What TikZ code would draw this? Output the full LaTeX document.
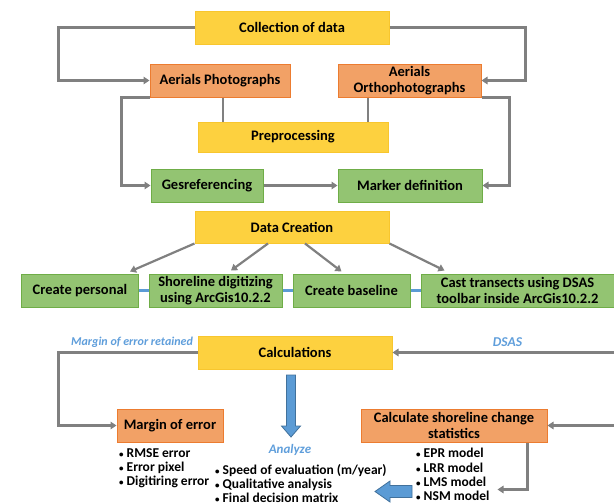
\documentclass[tikz,border=0pt]{standalone}
\usepackage{fontspec}
\setmainfont{Carlito}
\usetikzlibrary{arrows.meta}

\definecolor{yelfill}{HTML}{FDD13F}
\definecolor{yelline}{HTML}{F8C62E}
\definecolor{orafill}{HTML}{F2A166}
\definecolor{oraline}{HTML}{EC7C30}
\definecolor{grnfill}{HTML}{93C472}
\definecolor{grnline}{HTML}{6FAD47}
\definecolor{conngray}{HTML}{808080}
\definecolor{connblue}{HTML}{5B9BD5}
\definecolor{labblue}{HTML}{5F9EDB}
\definecolor{arrline}{HTML}{41719C}

\newcommand{\itm}{{\fontsize{9}{9}\selectfont\textbullet}\ }

\begin{document}
\begin{tikzpicture}[x=1pt,y=-1pt,
	box/.style={draw,line width=1pt,inner sep=0pt,align=center,
		font=\bfseries\fontsize{14.5}{16}\selectfont},
	ybox/.style={box,fill=yelfill,draw=yelline},
	obox/.style={box,fill=orafill,draw=oraline},
	gbox/.style={box,fill=grnfill,draw=grnline},
	arr/.style={draw=conngray,line width=2.2pt,-{Triangle[length=6pt,width=7.5pt]}},
	lin/.style={draw=conngray,line width=2.2pt},
	blin/.style={draw=connblue,line width=2.2pt},
	lab/.style={text=labblue,font=\bfseries\itshape\fontsize{12}{14}\selectfont},
	items/.style={align=left,anchor=west,inner sep=0pt,
		font=\bfseries\fontsize{13.5}{14.2}\selectfont},
	bigarr/.style={fill=connblue,draw=arrline,line width=0.8pt}]

	\useasboundingbox (0,0) rectangle (614,504);

	% first part
	\node[ybox,minimum width=194,minimum height=33] (coll) at (292,27.5) {Collection of data};
	\node[obox,minimum width=140,minimum height=33] (aph) at (220,80.5) {Aerials Photographs};
	\node[obox,minimum width=143,minimum height=33] (aor) at (409.5,80.5) {Aerials\\Orthophotographs};
	\node[ybox,minimum width=190,minimum height=30] (pre) at (293,137) {Preprocessing};
	\node[gbox,minimum width=112,minimum height=33] (ges) at (207,185.5) {Gesreferencing};
	\node[gbox,minimum width=144,minimum height=33] (mark) at (410,185.5) {Marker definition};

	\draw[arr] (coll.west) -- ++(-136,0) |- (aph.west);
	\draw[arr] (coll.east) -- ++(136,0) |- (aor.east);
	\draw[lin] ([xshift=3pt]aph.south) -- ([xshift=3pt]aph.south |- pre.north);
	\draw[lin] ([xshift=-41.5pt]aor.south) -- ([xshift=-41.5pt]aor.south |- pre.north);
	\draw[arr] (aph.south west) -- ++(-28,0) |- (ges.west);
	\draw[arr] (aor.south east) -- ++(28,0) |- (mark.east);
	\draw[arr] (ges.east) -- (mark.west);

	% data creation
	\node[ybox,minimum width=194,minimum height=32] (dc) at (292,227) {Data Creation};
	\node[gbox,minimum width=117,minimum height=33] (cp) at (80,290.5) {Create personal};
	\node[gbox,minimum width=133,minimum height=33] (sd) at (215.5,290.5) {Shoreline digitizing\\using ArcGis10.2.2};
	\node[gbox,minimum width=117,minimum height=33] (cb) at (351.5,290.5) {Create baseline};
	\node[gbox,minimum width=193,minimum height=33] (ct) at (517.5,290.5) {Cast transects using DSAS\\toolbar inside ArcGis10.2.2};

	\draw[arr] (dc.south west) -- ([xshift=-9pt,yshift=2pt]cp.north east);
	\draw[arr] ([xshift=-24pt]dc.south) -- ([xshift=15.5pt,yshift=3pt]sd.north);
	\draw[arr] ([xshift=13pt]dc.south) -- ([xshift=-10pt,yshift=2pt]cb.north);
	\draw[arr] (dc.south east) -- ([xshift=24pt,yshift=3pt]ct.north west);
	\draw[blin] (cp.east) -- (sd.west);
	\draw[blin] (sd.east) -- (cb.west);
	\draw[blin] (cb.east) -- (ct.west);

	% calculations
	\node[ybox,minimum width=194,minimum height=33] (calc) at (295,352.5) {Calculations};
	\node[obox,minimum width=106,minimum height=33] (moe) at (170,425.5) {Margin of error};
	\node[obox,minimum width=186,minimum height=33] (ccs) at (454,425.5) {Calculate shoreline change\\statistics};
	\coordinate (dsasin) at (614,352.5);
	\coordinate (statin) at (614,425.5);

	\draw[arr] (calc.west) -- ++(-139,0) |- (moe.west);
	\node[lab] (retained) at (132,342) {Margin of error retained};
	\draw[arr] (dsasin) -- (calc.east);
	\node[lab,font=\bfseries\itshape\fontsize{13.5}{14}\selectfont] (dsas) at (507.5,342) {DSAS};
	\draw[arr] (statin) -- (ccs.east);
	\draw[arr] ([xshift=-20pt]ccs.south east) -- ++(0,47) -- ++(-30,0);

	% results
	\node[items] (errlist) at (119,468) {\itm RMSE error\\\itm Error pixel\\\itm Digitiring error};
	\node[lab,font=\bfseries\itshape\fontsize{13}{14}\selectfont] (analyze) at (290,450) {Analyze};
	\node[items] (anlist) at (215,483.5) {\itm Speed of evaluation (m/year)\\\itm Qualitative analysis\\\itm Final decision matrix};
	\node[items] (modlist) at (416,474.5) {\itm EPR model\\\itm LRR model\\\itm LMS model\\\itm NSM model};

	\filldraw[bigarr] (286.5,375) -- (295.5,375) -- (295.5,426) -- (300.5,426) -- (291,437)
		-- (281.5,426) -- (286.5,426) -- cycle;
	\filldraw[bigarr] (412,485.5) -- (412,497.5) -- (390,497.5) -- (390,502) -- (375,491.5)
		-- (390,481) -- (390,485.5) -- cycle;

\end{tikzpicture}
\end{document}
